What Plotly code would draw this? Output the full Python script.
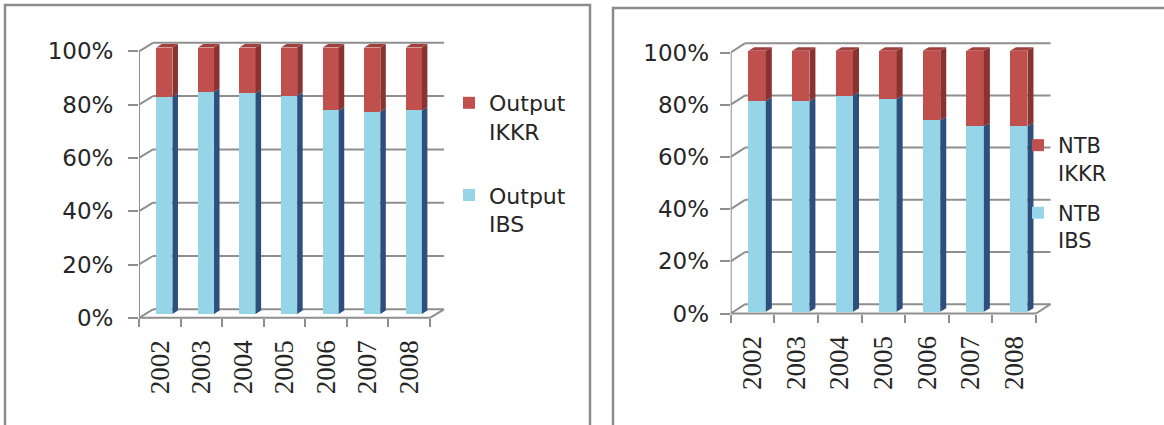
import plotly.graph_objects as go

# ---------------- data ----------------
years = ["2002", "2003", "2004", "2005", "2006", "2007", "2008"]
output_ibs = [0.815, 0.834, 0.828, 0.819, 0.764, 0.759, 0.764]
output_ikkr = [round(1 - v, 3) for v in output_ibs]
ntb_ibs = [0.808, 0.806, 0.828, 0.815, 0.734, 0.711, 0.711]
ntb_ikkr = [round(1 - v, 3) for v in ntb_ibs]
y_ticks = [0, 0.2, 0.4, 0.6, 0.8, 1.0]
y_ticktext = ["0%", "20%", "40%", "60%", "80%", "100%"]
left_names = ["Output<br>IBS", "Output<br>IKKR"]
right_names = ["NTB<br>IBS", "NTB<br>IKKR"]

# ---------------- style ----------------
W, H = 1164, 425
BLUE, BLUE_SIDE = "#96d5e8", "#2c4f7c"
RED, RED_SIDE, RED_TOP = "#c0504d", "#8a3230", "#a3403d"
GRID = "#8e8e8e"
TXT = "#262626"
TOP_PX, BOT_PX = 30, 335

fig = go.Figure()
shapes = []


def px2x(p):
    return p / W


def py2y(p):
    return (H - p) / H


def panel(idx, ibs, ikkr, names, g, legend_name):
    xa = "x" if idx == 1 else "x2"
    ya = "y" if idx == 1 else "y2"
    n = len(years)
    xs = list(range(n))
    uy = g["uy"]
    bdx = g["bdx"] / g["ux"]
    fdy = g["fdy"] / uy      # front plane offset (down) in value units
    bdy = g["bdy"] / uy      # back plane offset (down, negative=up)
    sd = g["side"] / g["ux"]
    sdy = g["sidey"] / uy
    off, wid = g["off"], g["wid"]

    # bars (front faces)
    fig.add_trace(go.Bar(x=xs, y=ibs, name=names[0], marker=dict(color=BLUE, line=dict(width=0)),
                         offset=off, width=wid, xaxis=xa, yaxis=ya, legend=legend_name,
                         legendgroup=f"a{idx}", legendrank=2, hoverinfo="skip"))
    fig.add_trace(go.Bar(x=xs, y=ikkr, name=names[1], marker=dict(color=RED, line=dict(width=0)),
                         offset=off, width=wid, xaxis=xa, yaxis=ya, legend=legend_name,
                         legendgroup=f"b{idx}", legendrank=1, hoverinfo="skip"))

    # 3D side / top faces
    def poly(pts_list):
        px_, py_ = [], []
        for pts in pts_list:
            for (a, b) in pts:
                px_.append(a)
                py_.append(b)
            px_.append(pts[0][0]); py_.append(pts[0][1])
            px_.append(None); py_.append(None)
        return px_, py_

    blue_side, red_side, red_top = [], [], []
    for k in xs:
        xl = k + off
        xr = xl + wid
        tot = ibs[k] + ikkr[k]
        blue_side.append([(xr, 0), (xr + sd, sdy), (xr + sd, ibs[k] + sdy), (xr, ibs[k])])
        red_side.append([(xr, ibs[k]), (xr + sd, ibs[k] + sdy), (xr + sd, tot + sdy), (xr, tot)])
        red_top.append([(xl, tot), (xl + sd, tot + sdy), (xr + sd, tot + sdy), (xr, tot)])
    for pts, col in ((blue_side, BLUE_SIDE), (red_side, RED_SIDE), (red_top, RED_TOP)):
        a, b = poly(pts)
        fig.add_trace(go.Scatter(x=a, y=b, mode="lines", fill="toself", fillcolor=col,
                                 line=dict(width=0, color=col), xaxis=xa, yaxis=ya,
                                 showlegend=False, hoverinfo="skip"))

    # walls / grid
    front = lambda v: v - fdy
    back = lambda v: v - bdy
    x_lo, x_hi = -0.5, n - 0.5
    for v in y_ticks:
        shapes.append(dict(type="line", xref=xa, yref=ya, x0=x_lo + bdx, x1=x_hi + bdx,
                           y0=back(v), y1=back(v), line=dict(color=GRID, width=2), layer="below"))
        shapes.append(dict(type="line", xref=xa, yref=ya, x0=x_lo, x1=x_lo + bdx,
                           y0=front(v), y1=back(v), line=dict(color=GRID, width=2), layer="below"))
    shapes.append(dict(type="line", xref=xa, yref=ya, x0=x_lo, x1=x_lo, y0=front(0), y1=front(1),
                       line=dict(color=GRID, width=2), layer="below"))
    shapes.append(dict(type="line", xref=xa, yref=ya, x0=x_lo, x1=x_hi, y0=front(0), y1=front(0),
                       line=dict(color=GRID, width=2), layer="below"))
    shapes.append(dict(type="line", xref=xa, yref=ya, x0=x_hi, x1=x_hi + bdx, y0=front(0), y1=back(0),
                       line=dict(color=GRID, width=2), layer="below"))

    # axes
    xdom = [px2x(g["x0"]), px2x(g["x0"] + (n + bdx + 0.05) * g["ux"])]
    ydom = [py2y(BOT_PX), py2y(TOP_PX)]
    bar_range = [(g["y0"] - BOT_PX) / uy, (g["y0"] - TOP_PX) / uy]
    front_range = [bar_range[0] + fdy, bar_range[1] + fdy]
    xkey = "xaxis" if idx == 1 else "xaxis2"
    ykey = "yaxis" if idx == 1 else "yaxis2"
    tkey = "yaxis3" if idx == 1 else "yaxis4"
    fig.layout[xkey] = dict(domain=xdom, range=[x_lo, x_hi + bdx + 0.05], anchor="free",
                            position=py2y(g["y0"] + g["fdy"]),
                            tickmode="array", tickvals=xs, ticktext=years, tickangle=-90,
                            ticks="", showgrid=False, zeroline=False, showline=False,
                            ticklabelstandoff=g["xstand"],
                            tickfont=dict(family="Liberation Sans Narrow", size=27, color=TXT),
                            minor=dict(tickmode="linear", tick0=-0.5, dtick=1, ticks="outside",
                                       ticklen=8, tickwidth=2, tickcolor=GRID, showgrid=False))
    fig.layout[ykey] = dict(domain=ydom, range=bar_range, anchor=xa, visible=False,
                            showgrid=False, zeroline=False)
    fig.layout[tkey] = dict(overlaying=ya, anchor=xa, side="left", range=front_range,
                            tickmode="array", tickvals=y_ticks, ticktext=y_ticktext,
                            ticks="outside", ticklen=10, tickwidth=2, tickcolor=GRID,
                            showgrid=False, zeroline=False, showline=False,
                            ticklabelstandoff=g["ystand"],
                            tickfont=dict(family="DejaVu Sans", size=23, color=TXT))


geo_left = dict(x0=139, ux=41.57, y0=314, uy=266.5, fdy=3.8, bdx=14, bdy=-4.7,
                side=5.5, sidey=3.5, off=-0.085, wid=0.39, xstand=16, ystand=10)
geo_right = dict(x0=730.7, ux=43.61, y0=311.7, uy=261, fdy=1.8, bdx=14.5, bdy=-7.5,
                 side=6, sidey=3.5, off=-0.095, wid=0.40, xstand=16, ystand=6)

panel(1, output_ibs, output_ikkr, left_names, geo_left, "legend")
panel(2, ntb_ibs, ntb_ikkr, right_names, geo_right, "legend2")

# hidden dummy references for overlay axes
fig.add_trace(go.Scatter(x=[None], y=[None], xaxis="x", yaxis="y3", showlegend=False))
fig.add_trace(go.Scatter(x=[None], y=[None], xaxis="x2", yaxis="y4", showlegend=False))

# panel borders
shapes.append(dict(type="rect", xref="paper", yref="paper", x0=px2x(5), x1=px2x(590),
                   y0=py2y(440), y1=py2y(5), line=dict(color="#8c8c8c", width=2.5)))
shapes.append(dict(type="rect", xref="paper", yref="paper", x0=px2x(613), x1=px2x(1180),
                   y0=py2y(440), y1=py2y(8), line=dict(color="#8c8c8c", width=2.5)))

fig.update_layout(
    width=W, height=H, margin=dict(l=0, r=0, t=0, b=0),
    paper_bgcolor="white", plot_bgcolor="rgba(0,0,0,0)",
    barmode="stack", shapes=shapes,
    legend=dict(x=px2x(449), y=py2y(82), xanchor="left", yanchor="top",
                traceorder="grouped", tracegroupgap=32, valign="top",
                font=dict(family="DejaVu Sans", size=22, color=TXT), bgcolor="rgba(0,0,0,0)"),
    legend2=dict(x=px2x(1018), y=py2y(125), xanchor="left", yanchor="top",
                 traceorder="grouped", tracegroupgap=10, valign="top",
                 font=dict(family="DejaVu Sans", size=21, color=TXT), bgcolor="rgba(0,0,0,0)"),
)

fig.write_html("out.html")
